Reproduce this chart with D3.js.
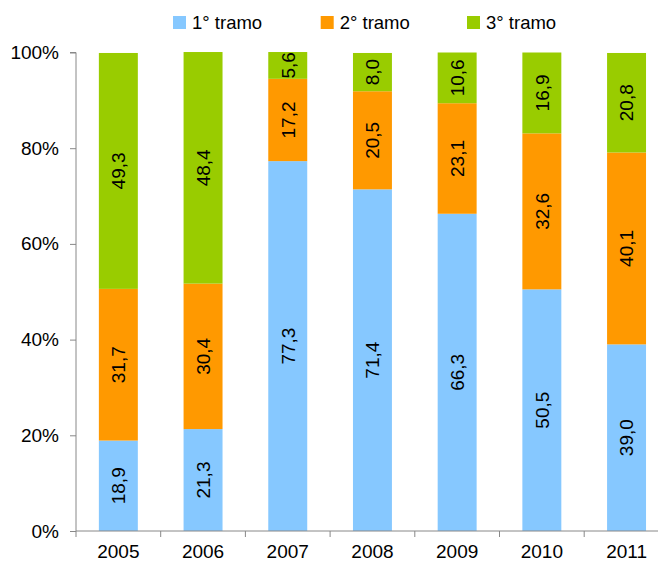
<!DOCTYPE html>
<html><head><meta charset="utf-8">
<script src="https://cdn.jsdelivr.net/npm/d3@7"></script>
<style>
html,body{margin:0;padding:0;background:#fff;}
svg{display:block;font-family:"Liberation Sans",Arial,sans-serif;}
</style></head>
<body><svg id="c" width="658" height="568"></svg>
<script>
const years = ["2005","2006","2007","2008","2009","2010","2011"];
const seriesNames = ["1° tramo","2° tramo","3° tramo"];
const tramo1 = [18.9,21.3,77.3,71.4,66.3,50.5,39.0];
const tramo2 = [31.7,30.4,17.2,20.5,23.1,32.6,40.1];
const tramo3 = [49.3,48.4,5.6,8.0,10.6,16.9,20.8];
const yTicks = [0,20,40,60,80,100];
const colors = ["#86C8FF","#FF9900","#99CC00"];

const rows = years.map((y,i)=>({year:y, s0:tramo1[i], s1:tramo2[i], s2:tramo3[i]}));
const stack = d3.stack().keys(["s0","s1","s2"])(rows);

const svg = d3.select("#c");
const left = 76, bandW = 84.7;
const x = d3.scaleBand().domain(years).range([left, left + bandW*years.length]).paddingInner(0.54).paddingOuter(0.27);
const y = d3.scaleLinear().domain([0,100]).range([531,52.5]);

// bars
stack.forEach((s,k)=>{
  const g = svg.append("g").attr("fill", colors[k]);
  g.selectAll("rect").data(s).enter().append("rect")
    .attr("x", d=>x(d.data.year))
    .attr("width", x.bandwidth())
    .attr("y", d=>y(d[1]))
    .attr("height", d=>y(d[0])-y(d[1]));
  svg.append("g").selectAll("text").data(s).enter().append("text")
    .attr("transform", d=>`translate(${x(d.data.year)+x.bandwidth()/2},${(y(d[0])+y(d[1]))/2}) rotate(-90)`)
    .attr("text-anchor","middle").attr("dy","0.36em")
    .attr("font-size","19px").attr("fill","#000")
    .text(d=>d3.format(".1f")(d[1]-d[0]).replace(".",","));
});

// y axis
const ya = svg.append("g").attr("transform",`translate(${left},0)`)
  .call(d3.axisLeft(y).tickValues(yTicks).tickSize(6).tickPadding(11).tickFormat(d=>d+"%"));
ya.select(".domain").attr("stroke","#888").attr("d",`M-6,${y(100)}H0V${y(0)}`);
ya.selectAll(".tick line").attr("stroke","#888");
ya.selectAll("text").attr("font-size","19px").attr("fill","#000").attr("font-family","Liberation Sans, Arial, sans-serif");

// x axis
const xa = svg.append("g").attr("transform",`translate(0,${y(0)})`)
  .call(d3.axisBottom(x).tickSize(0).tickPadding(14));
xa.select(".domain").attr("stroke","#888").attr("d",`M${left},0H${left+bandW*years.length}`);
xa.selectAll("text").attr("font-size","19px").attr("fill","#000").attr("font-family","Liberation Sans, Arial, sans-serif");
const bounds = d3.range(years.length+1).map(i=>left+i*bandW);
svg.append("g").selectAll("line").data(bounds).enter().append("line")
  .attr("x1",d=>d).attr("x2",d=>d).attr("y1",y(0)).attr("y2",y(0)+6).attr("stroke","#888");

// legend
const legX = [173, 320.7, 467];
const lg = svg.append("g");
seriesNames.forEach((n,i)=>{
  lg.append("rect").attr("x",legX[i]).attr("y",16).attr("width",13).attr("height",13).attr("fill",colors[i]);
  lg.append("text").attr("x",legX[i]+19).attr("y",28.5).attr("font-size","18.5px").attr("fill","#000").text(n);
});
</script></body></html>
